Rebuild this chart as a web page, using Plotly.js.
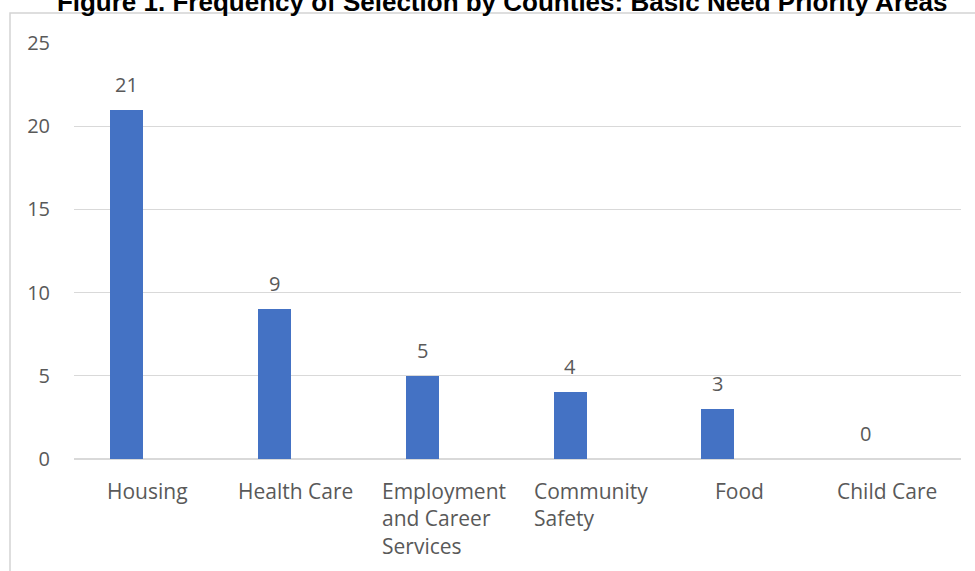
<!DOCTYPE html>
<html>
<head>
<meta charset="utf-8">
<script src="https://cdn.plot.ly/plotly-3.0.1.min.js"></script>
<style>html,body{margin:0;padding:0;background:#fff;}#chart{width:975px;height:571px;}</style>
</head>
<body>
<div id="chart"></div>
<script>
var categories = ["Housing", "Health Care", "Employment and Career Services", "Community Safety", "Food", "Child Care"];
var tickLabels = ["Housing", "Health Care", "Employment<br>and Career<br>Services", "Community<br>Safety", "Food", "Child Care"];
var counts = [21, 9, 5, 4, 3, 0];
var yTicks = [0, 5, 10, 15, 20, 25];

var BAR_W = 0.223, BAR_OFF = -0.256;
var numFont = {family: "Open Sans, sans-serif", size: 20, color: "#595959"};
var catFont = {family: "Open Sans, sans-serif", size: 21, color: "#595959"};

var plotW = 975 - 74 - 14;
var catW = plotW / categories.length;

var trace = {
  type: "bar",
  x: categories,
  y: counts,
  width: categories.map(function(){return BAR_W;}),
  offset: categories.map(function(){return BAR_OFF;}),
  marker: {color: "#4472C4"},
  hoverinfo: "x+y"
};

var annotations = [];
categories.forEach(function(c, i){
  annotations.push({
    x: c, y: counts[i], xref: "x", yref: "y",
    text: String(counts[i]), showarrow: false,
    xshift: (BAR_OFF + BAR_W/2) * catW,
    yanchor: "bottom", yshift: 10, font: numFont
  });
  annotations.push({
    x: c, y: 0, xref: "x", yref: "y",
    text: tickLabels[i], showarrow: false, align: "left",
    xanchor: "center", yanchor: "top", yshift: -16, font: catFont
  });
});

var frameX = (10 - 74) / plotW;
var frameY = (459 - 13) / 416;

var layout = {
  width: 975, height: 571,
  margin: {l: 74, r: 14, t: 43, b: 112},
  paper_bgcolor: "#ffffff", plot_bgcolor: "#ffffff",
  title: {
    text: "<b>Figure 1. Frequency of Selection by Counties: Basic Need Priority Areas</b>",
    font: {family: "Liberation Sans, Arial, sans-serif", size: 26, color: "#000000"},
    x: 0.515, xanchor: "center", xref: "container",
    y: 1, yanchor: "bottom", yref: "paper", pad: {b: 32}
  },
  xaxis: {
    type: "category", showticklabels: false, showgrid: false, zeroline: false,
    showline: false, ticks: "", range: [-0.5, 5.5], fixedrange: true
  },
  yaxis: {
    range: [0, 25], tickvals: yTicks, ticktext: yTicks.map(String),
    showgrid: true, gridcolor: "#d9d9d9", gridwidth: 1,
    zeroline: true, zerolinecolor: "#d9d9d9", zerolinewidth: 1.3,
    showline: false, ticks: "", ticklabelstandoff: 23,
    tickfont: numFont, fixedrange: true
  },
  showlegend: false,
  annotations: annotations,
  shapes: [
    {type: "rect", layer: "below", xref: "paper", yref: "paper", x0: frameX, x1: 1.1, y0: -0.3, y1: frameY, fillcolor: "rgba(0,0,0,0)", line: {color: "#d4d4d4", width: 1.5}}
  ],
  bargap: 0
};

Plotly.newPlot("chart", [trace], layout, {displayModeBar: false, staticPlot: true});
</script>
</body>
</html>
